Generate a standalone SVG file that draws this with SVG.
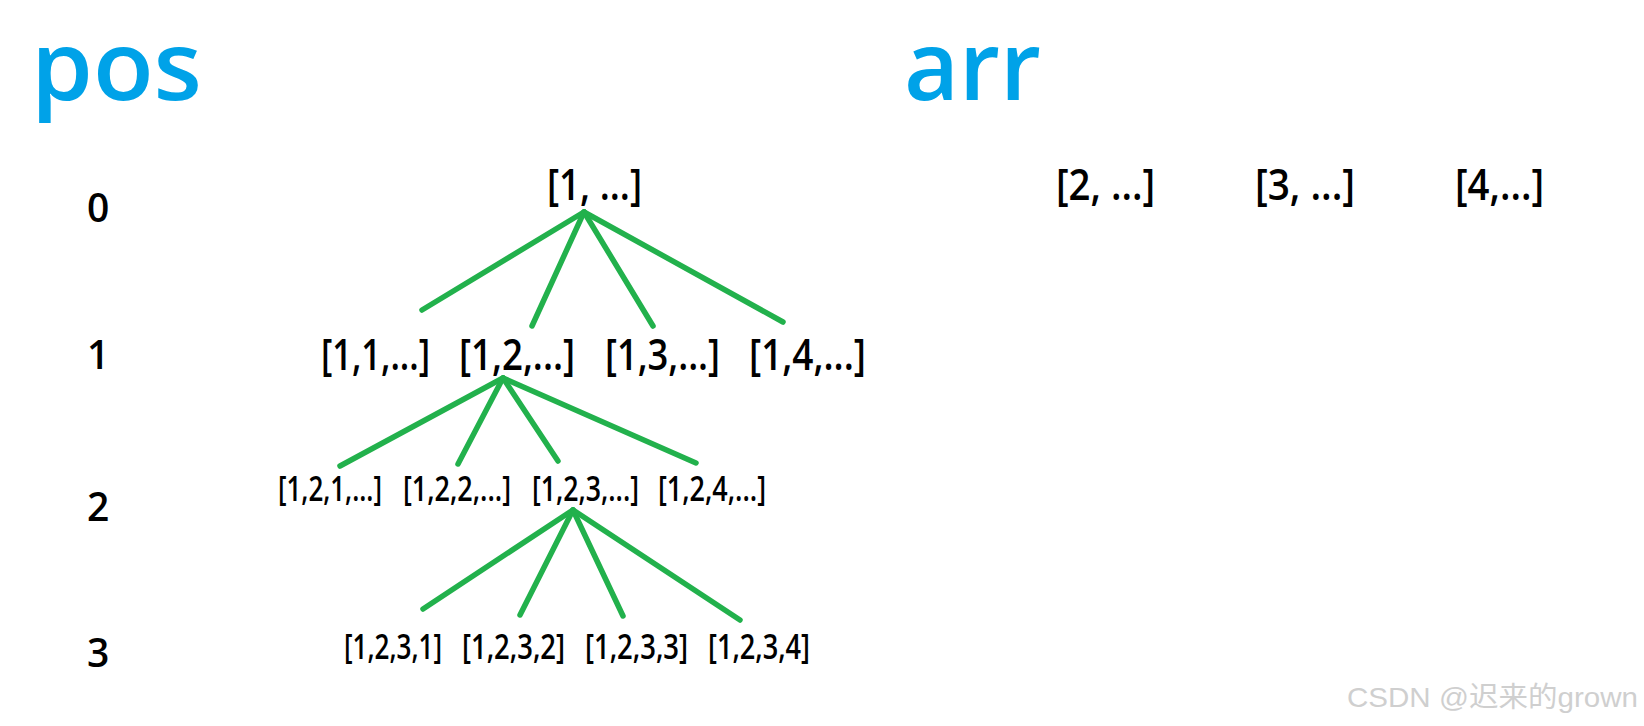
<svg xmlns="http://www.w3.org/2000/svg" width="1644" height="726" viewBox="0 0 1644 726">
<style>
.title{font-family:"Open Sans","Liberation Sans",sans-serif;font-weight:600;font-size:96px;fill:#00a2e8}
.lvl{font-family:"Open Sans","Liberation Sans",sans-serif;font-weight:600;font-size:39px;fill:#000}
.n{font-family:"Open Sans","Liberation Sans",sans-serif;font-weight:600;fill:#000;text-anchor:middle}
.big{font-size:44px}
.sm{font-size:34px}
.e line{stroke:#22b14c;stroke-width:5.5;stroke-linecap:round}
.wm{font-family:"Liberation Sans","Noto Sans CJK SC",sans-serif;font-size:28px;fill:#cfcfcf}
</style>
<rect width="1644" height="726" fill="#fff"/>
<text class="title" x="31" y="100" textLength="171" lengthAdjust="spacingAndGlyphs">pos</text>
<text class="title" x="904" y="100" textLength="137" lengthAdjust="spacingAndGlyphs">arr</text>
<g id="levels">
<text class="lvl" x="87" y="222">0</text>
<text class="lvl" x="87" y="369">1</text>
<text class="lvl" x="87" y="521">2</text>
<text class="lvl" x="87" y="667">3</text>
</g>
<g id="edges" class="e">
<line x1="584" y1="212" x2="422" y2="310"/>
<line x1="584" y1="212" x2="532" y2="326"/>
<line x1="584" y1="212" x2="653" y2="326"/>
<line x1="584" y1="212" x2="783" y2="322"/>
<line x1="503" y1="378" x2="340" y2="466"/>
<line x1="503" y1="378" x2="458" y2="464"/>
<line x1="503" y1="378" x2="558" y2="461"/>
<line x1="503" y1="378" x2="696" y2="463"/>
<line x1="573" y1="510" x2="423" y2="609"/>
<line x1="573" y1="510" x2="520" y2="615"/>
<line x1="573" y1="510" x2="623" y2="616"/>
<line x1="573" y1="510" x2="740" y2="620"/>
</g>
<g id="n1"><text class="n big" x="594.5" y="200" textLength="95" lengthAdjust="spacingAndGlyphs">[1, ...]</text></g>
<g id="n2"><text class="n big" x="1105.5" y="200" textLength="99" lengthAdjust="spacingAndGlyphs">[2, ...]</text></g>
<g id="n3"><text class="n big" x="1305" y="200" textLength="100" lengthAdjust="spacingAndGlyphs">[3, ...]</text></g>
<g id="n4"><text class="n big" x="1499.5" y="200" textLength="89" lengthAdjust="spacingAndGlyphs">[4,...]</text></g>
<g id="n11"><text class="n big" x="375.5" y="370" textLength="109" lengthAdjust="spacingAndGlyphs">[1,1,...]</text></g>
<g id="n12"><text class="n big" x="517" y="370" textLength="116" lengthAdjust="spacingAndGlyphs">[1,2,...]</text></g>
<g id="n13"><text class="n big" x="662.5" y="370" textLength="115" lengthAdjust="spacingAndGlyphs">[1,3,...]</text></g>
<g id="n14"><text class="n big" x="807.5" y="370" textLength="117" lengthAdjust="spacingAndGlyphs">[1,4,...]</text></g>
<g id="n121"><text class="n sm" x="330" y="501" textLength="104" lengthAdjust="spacingAndGlyphs">[1,2,1,...]</text></g>
<g id="n122"><text class="n sm" x="457" y="501" textLength="108" lengthAdjust="spacingAndGlyphs">[1,2,2,...]</text></g>
<g id="n123"><text class="n sm" x="585.5" y="501" textLength="107" lengthAdjust="spacingAndGlyphs">[1,2,3,...]</text></g>
<g id="n124"><text class="n sm" x="712" y="501" textLength="108" lengthAdjust="spacingAndGlyphs">[1,2,4,...]</text></g>
<g id="n1231"><text class="n sm" x="393" y="659" textLength="98" lengthAdjust="spacingAndGlyphs">[1,2,3,1]</text></g>
<g id="n1232"><text class="n sm" x="513.5" y="659" textLength="103" lengthAdjust="spacingAndGlyphs">[1,2,3,2]</text></g>
<g id="n1233"><text class="n sm" x="636.5" y="659" textLength="103" lengthAdjust="spacingAndGlyphs">[1,2,3,3]</text></g>
<g id="n1234"><text class="n sm" x="759" y="659" textLength="102" lengthAdjust="spacingAndGlyphs">[1,2,3,4]</text></g>
<text class="wm" x="1347" y="707" textLength="291" lengthAdjust="spacingAndGlyphs">CSDN @迟来的grown</text>
</svg>
